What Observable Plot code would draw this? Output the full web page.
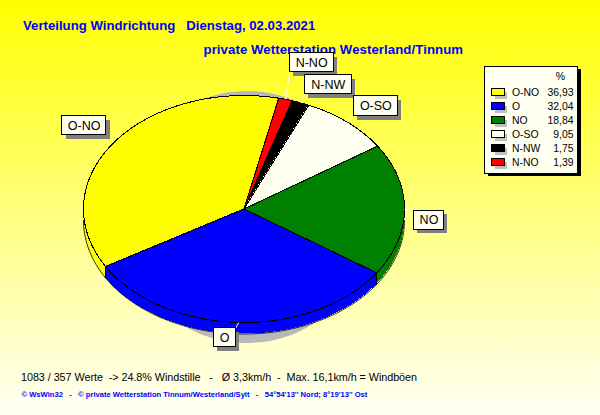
<!DOCTYPE html>
<html><head><meta charset="utf-8">
<script src="https://cdn.jsdelivr.net/npm/d3@7"></script>
<script src="https://cdn.jsdelivr.net/npm/@observablehq/plot@0.6"></script>
<style>
html,body{margin:0;padding:0;background:#fffff5}
svg{display:block}
.t2{letter-spacing:.08px}
.f1{letter-spacing:-.05px}
</style></head><body>
<div id="chart"></div>
<script>
// data
const directions = ["N-NO","N-NW","O-SO","NO","O","O-NO"];
const shares = [1.39,1.75,9.05,18.84,32.04,36.93];
const shareLabels = ["1,39","1,75","9,05","18,84","32,04","36,93"];
const sliceColors = ["#ff0000","#000000","#fffff0","#008000","#0000ff","#ffff00"];
const legendOrder = ["O-NO","O","NO","O-SO","N-NW","N-NO"];
const titleLine1 = "Verteilung Windrichtung\u00a0\u00a0\u00a0Dienstag, 02.03.2021";
const titleLine2 = "private Wetterstation Westerland/Tinnum";
const footerLine1 = "1083 / 357 Werte \u00a0-> 24.8% Windstille \u00a0 - \u00a0 Ø 3,3km/h \u00a0- \u00a0Max. 16,1km/h = Windböen";
const footerLine2 = "© WsWin32 \u00a0 - \u00a0 © private Wetterstation Tinnum/Westerland/Sylt \u00a0 - \u00a0 54°54'13'' Nord; 8°19'13'' Ost";

// layout of the pseudo-3D pie, in pixel units of the identity scales
const pie = {cx:243.5, cy:208.5, rx:160.5, ry:113.5, depth:11.5, start:12.5};
const shadow = {cx:247, cy:217, rx:125, ry:126};
// label box centre relative to the rim point of the slice
const labelOffset = {"N-NO":[26.1,-36.4],"N-NW":[27.6,-17.8],"O-SO":[28.5,-15.7],"NO":[24.5,10.5],"O":[-14.2,15.5],"O-NO":[-30.1,-16.3]};
const labelSize = {"N-NO":[44,19],"N-NW":[47,19],"O-SO":[44,20],"NO":[30,19],"O":[22,19],"O-NO":[44,19]};
const FONT = "Liberation Sans, Arial, sans-serif";

const rad = Math.PI/180;
const rim = (e,t,dy=0)=>({x:e.cx+e.rx*Math.sin(t*rad), y:e.cy-e.ry*Math.cos(t*rad)+dy});
const ends = d3.cumsum(shares.map(s=>s/d3.sum(shares)*360));
const slices = directions.map((name,i)=>{
  const a0 = pie.start+(i?ends[i-1]:0), a1 = pie.start+ends[i];
  return {name, color:sliceColors[i], a0, a1, mid:(a0+a1)/2};
});
const angles = (a0,a1)=>{
  const n=Math.max(2,Math.ceil((a1-a0)/1.5));
  return d3.range(n+1).map(k=>a0+(a1-a0)*k/n);
};
const fan = slices.flatMap(s=>angles(s.a0,s.a1).map(t=>({...rim(pie,t),name:s.name,color:s.color})));
const outline = slices.flatMap(s=>[
  {x:pie.cx,y:pie.cy,name:s.name},
  ...angles(s.a0,s.a1).map(t=>({...rim(pie,t),name:s.name})),
  {x:pie.cx,y:pie.cy,name:s.name}]);
const side = slices.flatMap(s=>{
  const a0=Math.max(s.a0,90), a1=Math.min(s.a1,270);
  if(a1<=a0) return [];
  return angles(a0,a1).map(t=>{const p=rim(pie,t),q=rim(pie,t,pie.depth);
    return {x1:p.x,y1:p.y,x2:q.x,y2:q.y,name:s.name,color:s.color};});
});
const sideCorners = slices.filter(s=>s.a1>90&&s.a1<270).flatMap(s=>[
  {...rim(pie,s.a1),name:s.name},{...rim(pie,s.a1,pie.depth),name:s.name}]);
const shadowPts = angles(0,360).map(t=>rim(shadow,t));
const labels = slices.map(s=>{
  const p=rim(pie,s.mid), [dx,dy]=labelOffset[s.name], [w,h]=labelSize[s.name];
  const lx=p.x+dx, ly=p.y+dy;
  return {name:s.name, px:p.x, py:p.y, lx, ly, x1:lx-w/2, x2:lx+w/2, y1:ly-h/2, y2:ly+h/2,
    ex:Math.min(Math.max(p.x,lx-w/2),lx+w/2), ey:Math.min(Math.max(p.y,ly-h/2),ly+h/2)};
});
// legend
const lg = {x1:484.5,x2:577.5,y1:66,y2:173,top:92,step:14};
const legendRows = legendOrder.map((name,i)=>{
  const j=directions.indexOf(name);
  return {name,color:sliceColors[j],value:shareLabels[j],y:lg.top+i*lg.step};
});

const crisp = {shapeRendering:"crispEdges"};
const chart = Plot.plot({
  width:600,height:415,margin:0,
  x:{domain:[0,600],range:[0,600],axis:null},
  y:{domain:[0,415],range:[0,415],axis:null},
  style:{background:"linear-gradient(#ffff00 0%,#fffff5 100%)",fontFamily:FONT,overflow:"visible"},
  marks:[
    Plot.text([titleLine1],{x:22.5,y:25.5,text:d=>d,textAnchor:"start",fill:"#0000ff",fontSize:13.2,fontWeight:"bold"}),
    Plot.text([titleLine2],{x:203,y:49.5,text:d=>d,textAnchor:"start",fill:"#0000ff",fontSize:13.2,fontWeight:"bold",className:"t2"}),
    // shadow
    Plot.area(shadowPts,{x1:shadow.cx,y1:shadow.cy,x2:"x",y2:"y",fill:"#b8b8b8"}),
    // side wall
    Plot.area(side,{x1:"x1",y1:"y1",x2:"x2",y2:"y2",z:"name",fill:"color",...crisp}),
    Plot.line(side,{x:"x2",y:"y2",z:"name",stroke:"#000",strokeWidth:0.8,...crisp}),
    Plot.line(sideCorners,{x:"x",y:"y",z:"name",stroke:"#000",strokeWidth:1,...crisp}),
    // top face
    Plot.area(fan,{x1:pie.cx,y1:pie.cy,x2:"x",y2:"y",z:"name",fill:"color",...crisp}),
    Plot.line(outline,{x:"x",y:"y",z:"name",stroke:"#000",strokeWidth:1,...crisp}),
    // labels
    Plot.link(labels,{x1:"px",y1:"py",x2:"ex",y2:"ey",stroke:"#fffff0",strokeWidth:1}),
    Plot.rect(labels,{x1:"x1",x2:"x2",y1:"y1",y2:"y2",dx:4,dy:4,fill:"#808080",...crisp}),
    Plot.rect(labels,{x1:"x1",x2:"x2",y1:"y1",y2:"y2",fill:"#fffff0",stroke:"#000",...crisp}),
    Plot.text(labels,{x:"lx",y:"ly",text:"name",fill:"#000",fontSize:12.5}),
    // legend
    Plot.rect([lg],{x1:"x1",x2:"x2",y1:"y1",y2:"y2",dx:3,dy:3,fill:"#000",...crisp}),
    Plot.rect([lg],{x1:"x1",x2:"x2",y1:"y1",y2:"y2",fill:"#fffff0",stroke:"#000",...crisp}),
    Plot.text(["%"],{x:560,y:76,text:d=>d,fontSize:10.5,fill:"#000"}),
    Plot.rect(legendRows,{x1:491.5,x2:504,y1:d=>d.y-3.5,y2:d=>d.y+3.5,dx:3,dy:3,fill:"#c0c0c0",...crisp}),
    Plot.rect(legendRows,{x1:491.5,x2:504,y1:d=>d.y-3.5,y2:d=>d.y+3.5,fill:"color",stroke:"#000",...crisp}),
    Plot.text(legendRows,{x:511.5,y:"y",text:"name",textAnchor:"start",fontSize:10.4,fill:"#000"}),
    Plot.text(legendRows,{x:573,y:"y",text:"value",textAnchor:"end",fontSize:10.4,fill:"#000"}),
    // footer
    Plot.text([footerLine1],{x:20.5,y:377,text:d=>d,textAnchor:"start",fontSize:10.8,fill:"#000",className:"f1"}),
    Plot.text([footerLine2],{x:21,y:394,text:d=>d,textAnchor:"start",fontSize:7.6,fontWeight:"bold",fill:"#0000ff"})
  ]
});
document.getElementById("chart").append(chart);
</script>
</body></html>
